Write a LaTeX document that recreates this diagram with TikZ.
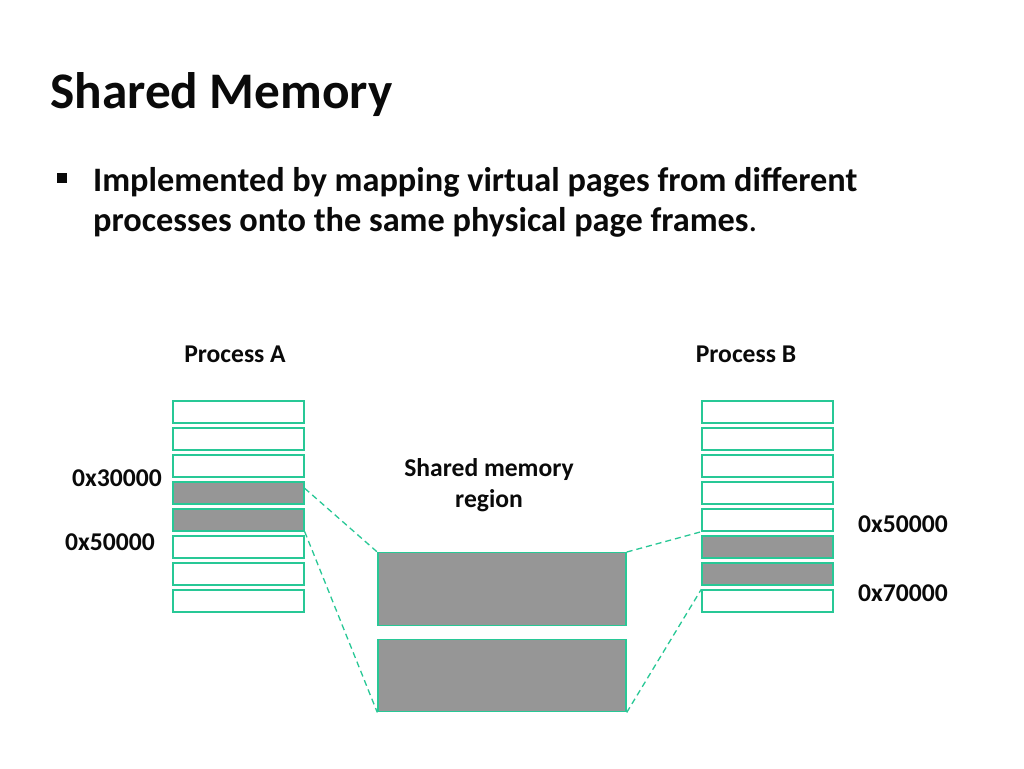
\documentclass[tikz,border=0pt]{standalone}
\usepackage{fontspec}
\setmainfont{Carlito}
\usetikzlibrary{calc}
\definecolor{teal}{RGB}{40,200,150}
\definecolor{pgray}{RGB}{150,150,150}
\definecolor{ink}{RGB}{10,10,10}
\begin{document}
\begin{tikzpicture}[x=1pt,y=-1pt,
  membox/.style={draw=teal,line width=1.4pt,minimum width=131pt,minimum height=22pt,inner sep=0pt,fill=white},
  usedbox/.style={membox,fill=pgray},
  shbox/.style={draw=teal,line width=1.4pt,fill=pgray,minimum width=248pt,minimum height=72.5pt,inner sep=0pt},
  dashline/.style={draw=teal,line width=1.3pt,dash pattern=on 6pt off 4pt},
  lbl/.style={inner sep=0pt,text=ink,font=\bfseries\fontsize{25.6}{31}\selectfont}]
\useasboundingbox (0,0) rectangle (1024,768);
\fill[white] (0,0) rectangle (1024,768);
% title and bullet
\node[inner sep=0pt,anchor=base west,text=ink,font=\bfseries\fontsize{51.3}{60}\selectfont] (title) at (50,108) {Shared Memory};
\node[fill=ink,minimum size=10pt,inner sep=0pt] (bullet) at (62,178) {};
\node[inner sep=0pt,anchor=base west,text=ink,font=\bfseries\fontsize{34.3}{40}\selectfont] (l1) at (93,191) {Implemented by mapping virtual pages from different};
\node[inner sep=0pt,anchor=base west,text=ink,font=\bfseries\fontsize{34.3}{40}\selectfont] (l2) at (93,231) {processes onto the same physical page frames\mdseries.};
% labels
\node[lbl,anchor=base] (pa) at (235,362) {Process A};
\node[lbl,anchor=base] (pb) at (746,362) {Process B};
\node[lbl,anchor=base] (sm1) at (489,476) {Shared memory};
\node[lbl,anchor=base] (sm2) at (489,507) {region};
\node[lbl,anchor=base west] (a30) at (72,486) {0x30000};
\node[lbl,anchor=base west] (a50) at (65,550) {0x50000};
\node[lbl,anchor=base west] (b50) at (858,532) {0x50000};
\node[lbl,anchor=base west] (b70) at (858,601) {0x70000};
% process A pages
\node[membox] (a1) at (238.5,412) {};
\node[membox] (a2) at (238.5,439) {};
\node[membox] (a3) at (238.5,466) {};
\node[usedbox] (a4) at (238.5,493) {};
\node[usedbox] (a5) at (238.5,520) {};
\node[membox] (a6) at (238.5,547) {};
\node[membox] (a7) at (238.5,574) {};
\node[membox] (a8) at (238.5,601) {};
% process B pages
\node[membox] (b1) at (767.5,412) {};
\node[membox] (b2) at (767.5,439) {};
\node[membox] (b3) at (767.5,466) {};
\node[membox] (b4) at (767.5,493) {};
\node[membox] (b5) at (767.5,520) {};
\node[usedbox] (b6) at (767.5,547) {};
\node[usedbox] (b7) at (767.5,574) {};
\node[membox] (b8) at (767.5,601) {};
% shared frames
\node[shbox] (s1) at (502,589) {};
\node[shbox] (s2) at (502,675.5) {};
% mappings
\draw[dashline] ($(a4.north east)!0.3!(a4.south east)$) -- (s1.north west);
\draw[dashline] (a5.south east) -- (s2.south west);
\draw[dashline] (s1.north east) -- (b5.south west);
\draw[dashline] (s2.south east) -- (b8.north west);
\end{tikzpicture}
\end{document}
